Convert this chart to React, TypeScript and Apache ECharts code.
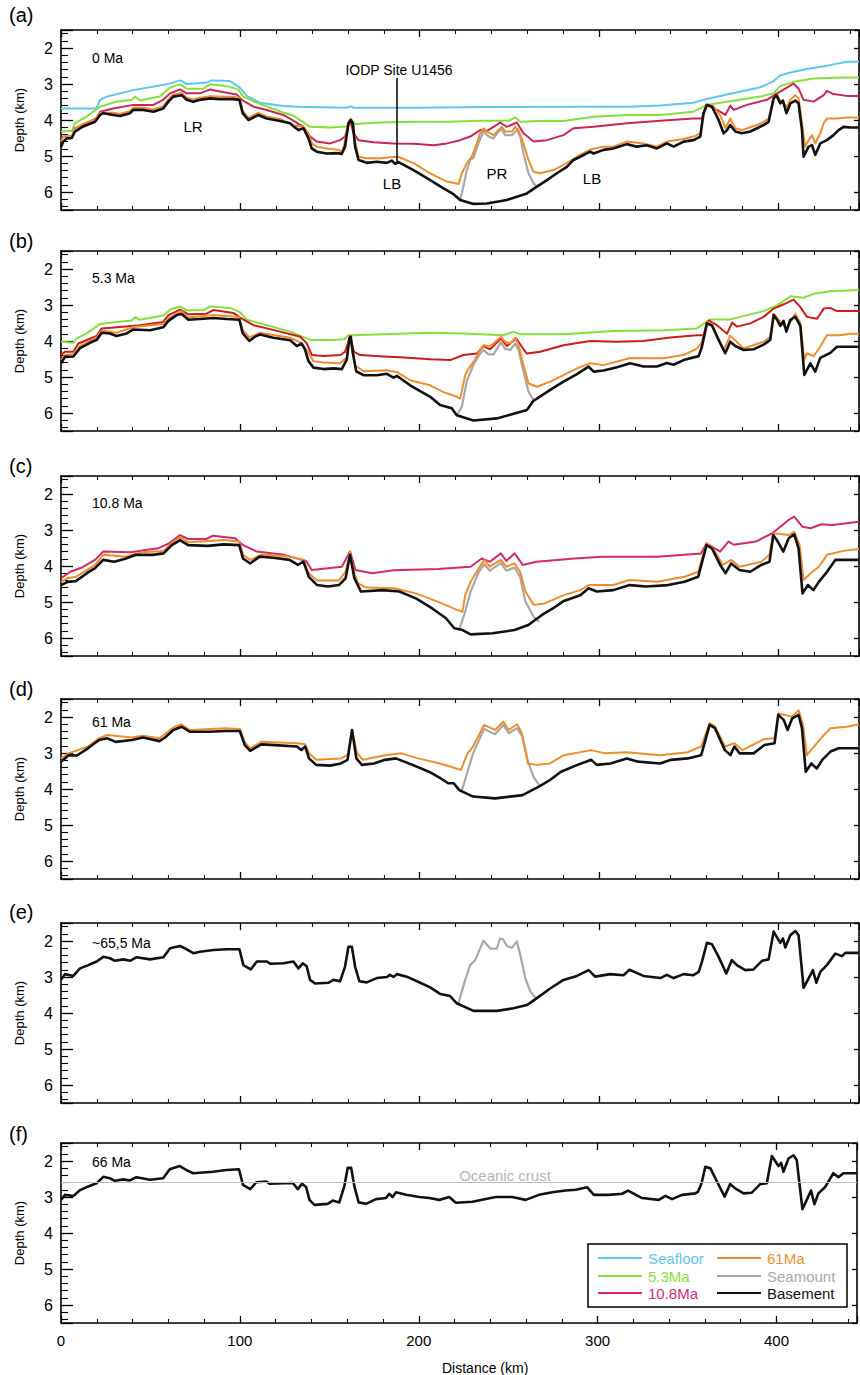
import React, { useEffect, useRef } from "react";
import * as echarts from "echarts";

const FONT = "Liberation Sans, Arial, Helvetica, sans-serif";
const X_MAX = 445;

// ---------------- data: [distance km, depth km] ----------------
const aSeafloor = [[0,3.68],[19.7,3.68],[21.8,3.44],[25.5,3.35],[40.3,3.17],[58.9,3.01],[66.4,2.9],[70.1,3.0],[81.2,2.96],[84,2.9],[94.2,2.92],[99.8,3.1],[103.6,3.33],[111,3.52],[124,3.61],[132.4,3.63],[159.3,3.66],[161.5,3.62],[163.5,3.66],[196.6,3.66],[240,3.64],[289.5,3.63],[315.6,3.63],[334,3.6],[352.7,3.52],[358.3,3.44],[371.4,3.29],[390,3.09],[397.4,2.92],[401.1,2.76],[408.5,2.66],[417.8,2.57],[427.1,2.49],[438.2,2.38],[445,2.38]];
const a53 = [[0,4.32],[6,4.3],[7.8,4.09],[14.2,3.91],[21.8,3.63],[31,3.49],[39.4,3.44],[41.2,3.35],[44,3.46],[55.2,3.35],[60.8,3.1],[66.4,3.01],[70.1,3.13],[79.4,3.13],[83.1,3.01],[92.4,3.06],[98.9,3.15],[101.7,3.35],[111,3.56],[124,3.79],[129.6,3.88],[138.9,4.19],[150,4.21],[159.3,4.18],[161.6,3.98],[164,4.11],[177.9,4.07],[196.6,4.05],[215.2,4.05],[233.7,4.02],[250,4.02],[253.3,3.93],[256.1,4.05],[271,4.02],[280,4.03],[297,3.91],[315.6,3.86],[334.2,3.86],[352.7,3.77],[360.2,3.58],[371.4,3.49],[390,3.35],[397.4,3.26],[401.1,3.06],[408.5,2.94],[419.7,2.85],[436.4,2.82],[445,2.82]];
const a108 = [[0,4.5],[1.3,4.46],[6,4.46],[7.8,4.23],[14.2,4.09],[19.7,3.95],[21.8,3.77],[29.2,3.68],[40.3,3.58],[51.5,3.58],[57,3.44],[60.8,3.26],[66.4,3.15],[70.1,3.26],[77.5,3.26],[83.1,3.15],[88.7,3.21],[98,3.29],[100.8,3.44],[107.3,3.63],[114.7,3.72],[124,3.86],[129.6,4.02],[135.2,4.19],[138.9,4.46],[142.6,4.6],[150,4.65],[155.6,4.56],[158.4,4.46],[161.2,4.0],[163.1,4.37],[165.9,4.56],[174.2,4.62],[185.4,4.65],[196.6,4.66],[207.7,4.7],[215.2,4.65],[222.6,4.56],[228.2,4.46],[233.7,4.28],[237.5,4.3],[241.2,4.19],[244.9,4.07],[248.7,4.19],[254.2,4.07],[257.9,4.37],[263.5,4.6],[271,4.56],[280.2,4.42],[285.8,4.23],[297,4.19],[315.6,4.09],[334.2,4.02],[352.7,3.96],[357.4,3.96],[360.2,3.58],[365.8,3.72],[370.5,3.86],[373.2,3.6],[375.1,3.72],[382.5,3.58],[393.6,3.44],[399.3,3.26],[404.8,3.1],[408.5,2.99],[411.3,3.13],[414.1,3.44],[419.7,3.49],[425.3,3.31],[427.1,3.19],[430.8,3.28],[438.2,3.33],[445,3.33]];
const aSeamount = [[222.6,6.22],[224.4,5.85],[226.3,5.39],[228.2,5.11],[230,5.05],[232.8,4.65],[235.6,4.32],[238.4,4.46],[241.2,4.51],[244,4.32],[245.8,4.25],[247.7,4.42],[251.4,4.42],[254.2,4.28],[256.1,4.46],[257.9,4.93],[260.7,5.48],[263.5,5.76],[265.4,5.85]];
const a61 = [[0,4.6],[1.5,4.45],[6,4.45],[7.8,4.25],[12.4,4.11],[19,3.98],[21.8,3.8],[29.2,3.8],[32.9,3.83],[38.5,3.75],[40.3,3.66],[45.9,3.66],[51.5,3.71],[57,3.62],[59.9,3.43],[62.6,3.29],[67.3,3.25],[70.1,3.38],[73.8,3.43],[77.5,3.38],[83.1,3.34],[96.1,3.36],[99.5,3.38],[101.3,3.75],[104.5,3.94],[107.3,3.87],[110,3.8],[114.7,3.9],[122.2,3.97],[129.6,4.15],[135.2,4.18],[138,4.37],[139.8,4.65],[142.6,4.74],[148.2,4.79],[155,4.83],[156.6,4.9],[158,4.65],[160.3,4.09],[161.6,3.96],[163,4.1],[164,4.6],[165.9,5.02],[170.5,5.06],[177.9,5.06],[185.4,5.03],[188,5.02],[196.6,5.2],[205.9,5.48],[215.2,5.71],[221.7,5.78],[223.5,5.48],[226.3,5.2],[229.1,5.02],[231.9,4.65],[233.7,4.37],[235.6,4.23],[237.5,4.32],[241.2,4.42],[244,4.28],[245.8,4.19],[247.7,4.32],[251.4,4.32],[253.3,4.19],[255.1,4.28],[257.9,4.65],[260.7,5.11],[263.5,5.44],[267.2,5.48],[274.6,5.39],[282.1,5.2],[289.5,4.97],[295.1,4.82],[302.5,4.74],[308,4.74],[315.6,4.6],[324.8,4.65],[332.3,4.74],[337.9,4.6],[347.2,4.53],[352.7,4.46],[356.5,4.37],[358.7,3.72],[360.2,3.56],[364,3.63],[368,3.91],[370.5,4.23],[373.2,3.96],[376,4.23],[379.7,4.28],[388.1,4.14],[391.8,4.05],[394.6,3.96],[397.4,3.35],[399.3,3.29],[401.1,3.46],[404.8,3.63],[406.7,3.44],[409.5,3.31],[411.3,3.4],[413.2,4.09],[415,4.74],[416.9,4.56],[418.8,4.42],[420.6,4.65],[423.4,4.37],[425.3,4.09],[427.1,3.96],[432.7,3.96],[438.2,3.93],[445,3.93]];
const aBasement = [[0,4.75],[1.3,4.6],[3.2,4.51],[6,4.5],[7.8,4.32],[12.4,4.18],[19,4.05],[21.8,3.86],[23.6,3.81],[29.2,3.86],[32.9,3.89],[38.5,3.81],[40.3,3.72],[45.9,3.72],[51.5,3.77],[57,3.68],[59.9,3.49],[62.6,3.35],[67.3,3.31],[70.1,3.44],[73.8,3.49],[77.5,3.44],[83.1,3.4],[88.7,3.42],[96.1,3.42],[99.5,3.44],[101.3,3.81],[104.5,4.0],[107.3,3.93],[110,3.86],[114.7,3.96],[122.2,4.03],[127.8,4.09],[130,4.19],[132.4,4.28],[135.2,4.23],[138,4.51],[139.8,4.79],[142.6,4.88],[148.2,4.93],[153.8,4.92],[156.6,4.94],[158.4,4.74],[160.3,4.09],[161.6,4.0],[162.7,4.09],[164,4.74],[165.9,5.11],[170.5,5.19],[176.1,5.16],[181.7,5.19],[184.5,5.13],[186.3,5.22],[188.2,5.17],[196.6,5.39],[205.9,5.67],[213.3,5.9],[218.9,6.06],[222.6,6.22],[230,6.33],[237.5,6.32],[248.7,6.22],[259.8,6.04],[265.4,5.85],[271,5.67],[276.5,5.48],[282.1,5.3],[285.8,5.11],[289.5,5.02],[295.1,4.88],[297,4.93],[302.5,4.83],[308,4.79],[315.6,4.67],[321.2,4.74],[326.7,4.7],[332.3,4.79],[337.9,4.65],[341.6,4.74],[347.2,4.6],[352.7,4.56],[356.5,4.46],[358.3,3.81],[360.2,3.58],[363,3.63],[366.7,4.0],[369.5,4.37],[371.4,4.28],[373.2,4.14],[376,4.32],[379.7,4.37],[384.4,4.32],[388.1,4.23],[391.8,4.14],[394.6,4.05],[397.4,3.4],[398.9,3.31],[401.1,3.54],[402.6,3.46],[404.5,3.81],[406.7,3.54],[409.5,3.46],[411.3,3.54],[413.2,4.28],[414.1,5.02],[416.9,4.74],[418.8,4.7],[420.6,4.97],[423.4,4.65],[427.1,4.56],[430.8,4.42],[433.6,4.28],[436.4,4.19],[440.2,4.21],[445,4.21]];

const b53 = [[0,4.02],[6.9,4.05],[8.7,3.93],[14.3,3.79],[21.8,3.53],[31,3.47],[39.4,3.43],[41.2,3.34],[44,3.41],[57,3.29],[60.8,3.13],[66.4,3.04],[70.1,3.15],[79.4,3.14],[83.1,3.04],[94.2,3.08],[99.8,3.2],[103.6,3.41],[114.7,3.56],[127.8,3.74],[139,3.97],[152,3.97],[158,3.95],[160.3,3.83],[162,3.85],[166.9,3.83],[205.9,3.77],[224.4,3.79],[246.7,3.84],[252.3,3.74],[256.1,3.81],[280.2,3.81],[308.1,3.72],[336,3.7],[354.6,3.65],[362,3.4],[373.2,3.4],[391.8,3.17],[399.3,3.01],[406.7,2.76],[414.1,2.8],[419.7,2.69],[429,2.62],[445,2.58]];
const b108 = [[0,4.39],[2.2,4.3],[6.9,4.3],[9.7,4.07],[19.9,3.86],[22.7,3.65],[32.9,3.61],[44,3.56],[57,3.47],[59.9,3.28],[66.4,3.13],[71,3.26],[81.2,3.24],[85,3.14],[96.1,3.22],[99.8,3.35],[107.3,3.56],[122.2,3.74],[133.4,3.88],[137,4.06],[139.9,4.39],[146.4,4.42],[155.7,4.39],[158.4,4.3],[161.2,3.89],[163.4,4.3],[166.9,4.39],[179.9,4.43],[189.2,4.45],[205.9,4.51],[217,4.53],[224.4,4.39],[231.9,4.35],[235.6,4.14],[239.3,4.23],[245.3,3.93],[248.7,4.14],[253.9,3.93],[257,4.16],[259.8,4.35],[267.2,4.3],[280.2,4.12],[295.1,4.0],[310,4.02],[324.8,4.0],[339.7,3.9],[354.6,3.84],[358.3,3.84],[361.1,3.43],[365.8,3.56],[371.4,3.8],[374.2,3.49],[377,3.6],[384.4,3.51],[391.8,3.33],[397.4,3.1],[403,2.98],[408.5,2.85],[412.3,3.06],[416,3.33],[421.6,3.38],[425.3,3.1],[429,3.08],[432.7,3.17],[445,3.17]];
const bSeamount = [[220.7,6.06],[223.5,5.83],[226.3,5.11],[230,4.66],[233.7,4.35],[235.6,4.25],[238.4,4.37],[241.2,4.37],[245.3,4.04],[247.7,4.22],[250.5,4.25],[253.3,4.07],[255.1,4.25],[257.9,4.85],[260.7,5.41],[263.5,5.64]];
const b61 = [[0,4.53],[2.2,4.39],[6.9,4.37],[10.6,4.14],[19.9,3.9],[22.7,3.71],[31,3.77],[40.3,3.61],[57,3.53],[59.9,3.37],[67.3,3.17],[71,3.35],[85,3.28],[99,3.33],[101.3,3.69],[105,3.9],[111,3.77],[127.8,3.91],[133.4,4.04],[138,4.32],[140.8,4.56],[146.4,4.6],[155.7,4.62],[159.4,4.45],[161,3.86],[164,4.68],[168.7,4.84],[181.7,4.81],[187.3,4.86],[194.7,5.09],[205.9,5.23],[213.3,5.42],[220.7,5.55],[222.6,5.6],[225.4,4.95],[227.3,4.76],[230,4.58],[233.7,4.25],[235.6,4.11],[238.4,4.16],[241.2,4.07],[245.3,3.89],[247.7,4.02],[250.5,4.07],[253.3,3.91],[255.1,4.11],[257.9,4.67],[260.7,5.18],[265.4,5.27],[272.8,5.13],[280.2,4.95],[287.7,4.76],[295.1,4.62],[302.5,4.67],[317.4,4.47],[336,4.48],[347.2,4.39],[354.6,4.21],[357.4,4.03],[360.2,3.46],[363,3.53],[369.5,4.25],[373.2,3.85],[380.7,4.21],[391.8,4.02],[395.5,3.88],[397.4,3.24],[401.1,3.46],[404.5,3.65],[409.5,3.24],[412.3,3.5],[414.5,4.52],[416,4.34],[419.7,4.42],[423.4,4.16],[427.1,3.84],[434.5,3.84],[440,3.8],[445,3.8]];
const bBasement = [[0,4.62],[2.2,4.44],[6.9,4.43],[10.6,4.2],[16.2,4.05],[19.9,3.97],[22.7,3.77],[27.3,3.79],[31,3.86],[36.6,3.79],[40.3,3.68],[49.7,3.7],[57,3.62],[59.9,3.44],[64.5,3.28],[67.3,3.25],[71,3.41],[77.5,3.39],[85,3.36],[92.4,3.39],[99.5,3.41],[101.3,3.78],[105,4.0],[108.2,3.88],[111,3.82],[118.4,3.91],[127.8,3.98],[131.5,4.14],[134.3,4.07],[136.1,4.24],[138,4.56],[140.8,4.74],[146.4,4.78],[152,4.76],[156.6,4.78],[159.4,4.51],[160.8,3.92],[161.6,3.88],[162.7,4.32],[164.6,4.84],[168.7,4.95],[176.1,4.95],[181.7,4.91],[185.4,5.02],[187.3,4.97],[194.7,5.23],[205.9,5.55],[211.4,5.78],[217.9,5.87],[220.7,6.06],[230,6.21],[243,6.15],[259.8,5.92],[263.5,5.66],[265.4,5.6],[272.8,5.36],[280.2,5.13],[287.7,4.92],[294.2,4.71],[297,4.85],[302.5,4.82],[310,4.73],[317.4,4.62],[324.8,4.71],[332.3,4.71],[337.9,4.61],[341.6,4.66],[347.2,4.53],[355.6,4.42],[357.4,4.16],[360.2,3.51],[363,3.57],[366.7,3.97],[370.4,4.34],[373.2,4.02],[376,4.14],[380.7,4.25],[386.3,4.23],[391.8,4.1],[395.5,3.97],[397.4,3.28],[399.3,3.41],[401.1,3.58],[402.9,3.44],[404.5,3.74],[406.7,3.41],[409.5,3.33],[412.3,3.58],[414.5,4.94],[417.9,4.62],[420.6,4.85],[423.4,4.47],[429,4.33],[432.7,4.16],[445,4.16]];

const c108 = [[0,4.34],[5.2,4.16],[11.3,4.05],[19,3.83],[23.5,3.6],[38.8,3.62],[54.1,3.51],[60.2,3.37],[66.4,3.14],[70.9,3.25],[81,3.25],[84.7,3.16],[97,3.23],[101.5,3.42],[109.2,3.6],[124.5,3.69],[136.7,3.86],[139.8,4.11],[148.9,4.06],[156.6,4.02],[161.2,3.6],[164.2,4.11],[173.4,4.2],[185.6,4.12],[210.1,4.08],[228.4,4.02],[234.6,3.79],[239.1,3.88],[245.3,3.65],[248.3,3.86],[252.9,3.65],[257.5,3.97],[265.1,3.88],[286.5,3.79],[301.8,3.74],[332.4,3.74],[356.9,3.65],[360,3.37],[367.6,3.6],[372.2,3.32],[375.2,3.41],[387.5,3.32],[396.6,3.09],[405.8,2.72],[408.9,2.63],[413.5,2.91],[418,2.95],[424.2,2.84],[430.3,2.86],[445,2.77]];
const cSeamount = [[222.3,5.73],[225.4,5.27],[228.4,4.71],[233,4.16],[236.1,3.95],[239.1,4.13],[245.3,3.92],[248.3,4.13],[252.9,4.04],[256,4.3],[259,4.99],[263.6,5.41],[266.7,5.55]];
const c61 = [[0,4.44],[3.7,4.34],[8.3,4.3],[19,3.97],[23.5,3.69],[35.8,3.74],[45,3.62],[57.2,3.58],[61.8,3.36],[66.4,3.19],[70.9,3.34],[90.8,3.28],[99.4,3.32],[101.5,3.69],[105.5,3.83],[112.2,3.68],[127.5,3.74],[135.2,3.83],[138.2,4.21],[142.8,4.4],[155,4.4],[158.7,4.16],[161.2,3.6],[163.5,4.2],[165.7,4.48],[170.3,4.6],[185.6,4.62],[197.9,4.76],[210.1,4.99],[220.8,5.22],[223.9,5.27],[225.4,4.81],[228.4,4.44],[233,4.06],[236.1,3.83],[239.1,4.02],[245.3,3.83],[248.3,4.02],[252.9,3.93],[256,4.16],[259,4.71],[263.6,5.08],[269.7,5.04],[280.4,4.81],[289.6,4.67],[294.2,4.53],[308,4.53],[317.1,4.39],[332.4,4.44],[347.7,4.3],[355.3,4.16],[360,3.37],[363,3.46],[369.1,3.97],[373.7,3.83],[378.3,4.02],[390.5,3.88],[395.1,3.69],[397.2,3.09],[405.8,3.14],[408.9,3.05],[411.9,3.42],[414.1,4.39],[418,4.2],[422.6,4.02],[427.2,3.69],[436.4,3.58],[445,3.53]];
const cBasement = [[0,4.53],[3.7,4.44],[8.3,4.42],[14.4,4.2],[19,4.06],[23.5,3.83],[29.7,3.88],[35.8,3.8],[41.9,3.69],[51,3.69],[57.2,3.65],[61.8,3.42],[66.4,3.28],[70.9,3.42],[81.7,3.44],[90.8,3.4],[99.4,3.42],[101.5,3.79],[105.5,3.93],[110.7,3.74],[118.3,3.77],[127.5,3.83],[132.1,3.97],[135.2,3.88],[138.2,4.3],[142.8,4.53],[148.9,4.57],[155,4.53],[158.7,4.34],[161.2,3.69],[163.6,4.34],[167.3,4.71],[179.5,4.67],[188.7,4.71],[197.9,4.9],[207,5.18],[214.7,5.45],[219.3,5.73],[223.9,5.78],[228.4,5.9],[240.7,5.87],[252.9,5.78],[260.6,5.64],[268.2,5.36],[274.3,5.18],[280.4,4.97],[289.6,4.81],[294.2,4.62],[298.8,4.71],[308,4.67],[317.1,4.53],[326.3,4.57],[338.5,4.53],[347.7,4.44],[355.3,4.3],[360,3.42],[363,3.51],[367.6,3.97],[370.6,4.2],[373.7,3.93],[378.3,4.11],[384.4,4.16],[390.5,3.97],[395.1,3.88],[397.2,3.14],[399.7,3.32],[402.8,3.6],[405.8,3.23],[408.9,3.12],[411.3,3.51],[413.5,4.76],[416.5,4.53],[419.6,4.67],[422.6,4.44],[427.2,4.16],[431.8,3.83],[445,3.83]];

const dSeamount = [[223.6,4.03],[226.7,3.52],[229.8,3.01],[235.9,2.33],[242,2.48],[246.6,2.22],[249.7,2.45],[254.3,2.31],[257.4,2.55],[260.4,3.24],[263.5,3.66],[267,3.92]];
const d61 = [[0,3.15],[4.3,3.01],[15,2.82],[21.2,2.59],[25.8,2.5],[39.6,2.57],[45.7,2.52],[54.9,2.59],[62.6,2.29],[67.2,2.2],[71.8,2.36],[91.7,2.31],[99.7,2.33],[102.5,2.7],[105.5,2.87],[111.7,2.69],[131.6,2.73],[136.2,2.76],[138.3,3.01],[142.3,3.19],[156.1,3.15],[159.8,3.06],[162.3,2.36],[165,3.0],[168.4,3.19],[180.7,3.06],[189.9,3.01],[199.1,3.15],[211.3,3.29],[220.5,3.43],[223,3.47],[226.7,3.01],[229.8,2.82],[235.9,2.22],[242,2.36],[246.6,2.13],[249.7,2.36],[254.3,2.2],[256.7,2.41],[260.4,3.29],[265,3.33],[272.7,3.29],[280.4,3.06],[295.7,2.92],[303.4,3.01],[315.6,2.98],[334,3.06],[349.4,2.98],[357,2.82],[361.7,2.17],[364.7,2.26],[370.2,2.82],[375.5,2.73],[380,2.92],[392.3,2.61],[397.9,2.59],[400,1.9],[407.7,1.99],[411.3,1.81],[413.8,2.22],[415.9,3.06],[419.9,2.82],[424.5,2.55],[429.1,2.31],[438.3,2.27],[445,2.2]];
const dBasement = [[0,3.24],[4.3,3.06],[8.9,3.07],[15,2.87],[21.2,2.64],[25.8,2.59],[30.4,2.69],[39.6,2.64],[45.7,2.57],[54.9,2.67],[58,2.57],[62.6,2.36],[67.2,2.27],[71.8,2.41],[82.5,2.41],[91.7,2.39],[99.7,2.39],[102.5,2.78],[105.5,2.94],[111.7,2.76],[119.3,2.78],[131.6,2.82],[134,2.92],[136.2,2.82],[138.3,3.15],[142.3,3.33],[150,3.35],[156.1,3.29],[159.8,3.19],[162.3,2.36],[164.7,3.15],[167.8,3.33],[174.5,3.29],[180.7,3.19],[186.8,3.15],[196,3.33],[205.2,3.52],[211.3,3.69],[215.9,3.84],[219,3.84],[222.1,4.03],[229.8,4.21],[242,4.26],[257.4,4.17],[267,3.92],[272.7,3.75],[278.8,3.52],[288,3.33],[295.7,3.19],[298.8,3.33],[306.4,3.29],[315.6,3.15],[321.8,3.24],[334,3.29],[340.2,3.19],[349.4,3.15],[357,3.06],[361.7,2.22],[364.7,2.31],[370.2,2.92],[373.3,3.06],[375.5,2.82],[378.5,3.01],[386.2,3.01],[392.3,2.78],[397.9,2.73],[400,1.94],[403,2.08],[405.2,2.36],[407.7,2.04],[411.3,1.94],[413.2,2.31],[415.3,3.52],[418.4,3.29],[421.5,3.43],[424.5,3.19],[429.1,2.96],[433.7,2.87],[445,2.87]];

const eSeamount = [[221.6,3.73],[225.4,3.08],[228.2,2.67],[231,2.53],[235.6,1.99],[239.3,2.21],[243,2.21],[244.9,1.93],[246.5,1.95],[248.7,2.14],[251.4,2.19],[254.2,2.01],[256.1,2.38],[258.9,3.03],[261.7,3.4],[265,3.6]];
const eBasement = [[0,3.08],[2.2,2.92],[6.9,2.97],[10.6,2.76],[15.2,2.67],[19.9,2.57],[23.6,2.44],[27.3,2.48],[30.1,2.55],[34.8,2.51],[38.5,2.55],[42.2,2.45],[49.7,2.51],[57.1,2.45],[60.8,2.2],[66.4,2.14],[70.1,2.23],[73.8,2.34],[77.5,2.3],[85,2.25],[92.4,2.23],[99.5,2.23],[101.7,2.67],[105.8,2.79],[109.2,2.57],[114.8,2.57],[116.6,2.63],[124,2.62],[129.6,2.57],[132.4,2.76],[134.8,2.62],[137,2.7],[138.9,3.08],[141.7,3.18],[149.1,3.16],[151.9,3.08],[155.6,3.12],[158.4,2.71],[160.3,2.16],[162.2,2.16],[164,2.71],[166.4,3.12],[170.5,3.15],[176.1,3.03],[181.7,3.0],[183.5,2.94],[185.4,3.0],[187.3,2.92],[192.8,2.99],[200.3,3.16],[205.9,3.29],[211.4,3.47],[217,3.53],[220.7,3.73],[230,3.94],[243,3.94],[252.3,3.87],[259.8,3.78],[265,3.6],[272.8,3.32],[280.2,3.08],[287.7,2.97],[294.2,2.81],[297.9,2.99],[306.3,2.92],[313.7,2.95],[317,2.8],[324.8,2.97],[334.2,3.03],[337.9,2.94],[341.6,3.03],[347.2,2.92],[352.7,2.95],[355.6,2.86],[357.4,2.58],[360.2,2.05],[363,2.09],[366.7,2.44],[371,2.9],[374.1,2.53],[376.9,2.67],[381.6,2.81],[386.2,2.79],[390.9,2.55],[394.6,2.51],[397.4,1.74],[401.1,2.05],[402.6,1.93],[403.9,2.18],[406.7,1.84],[409.5,1.72],[411.3,1.84],[414.1,3.3],[416.9,3.04],[419.3,2.81],[421.2,3.16],[423.4,2.86],[427.1,2.67],[431.8,2.35],[435.5,2.42],[437.4,2.33],[445,2.33]];

const fBasement = [[0,3.08],[2.2,2.94],[6.9,2.97],[10.6,2.81],[15.2,2.71],[19.9,2.62],[23.6,2.44],[27.3,2.48],[30.1,2.55],[34.8,2.51],[38.5,2.54],[42.2,2.45],[49.7,2.52],[57.1,2.48],[60.8,2.23],[66.4,2.14],[70.1,2.25],[73.8,2.34],[85,2.3],[92.4,2.25],[99.5,2.23],[101.7,2.66],[105.8,2.78],[109.2,2.59],[114.8,2.57],[116.6,2.63],[129.6,2.61],[132.4,2.78],[134.8,2.63],[137,2.72],[138.9,3.08],[141.7,3.22],[149.1,3.19],[151.9,3.1],[155.6,3.15],[158.4,2.7],[160.3,2.19],[162.2,2.19],[164,2.7],[166.4,3.15],[170.5,3.19],[176.1,3.06],[181.7,3.03],[183.5,2.91],[185.4,3.0],[187.3,2.87],[192.8,2.94],[200.3,3.0],[205.9,3.03],[211.4,3.08],[217,3.0],[220.7,3.16],[230,3.13],[243,3.0],[252.3,3.0],[259.8,3.08],[267.2,2.94],[274.6,2.87],[282.1,2.82],[287.7,2.8],[294.2,2.73],[297.9,2.94],[306.3,2.94],[313.7,2.91],[317,2.82],[324.8,3.03],[334.2,3.08],[337.9,2.97],[341.6,3.06],[347.2,2.94],[354.6,2.9],[356.2,2.85],[358.1,2.62],[360.2,2.16],[363,2.2],[366.7,2.57],[371,2.99],[374.1,2.64],[376.9,2.76],[381.6,2.9],[386.2,2.88],[390.9,2.64],[394.6,2.62],[397.4,1.86],[401.1,2.14],[402.6,2.05],[403.9,2.3],[406.7,1.93],[409.5,1.84],[411.3,1.97],[414.5,3.34],[416.9,3.08],[419.3,2.82],[421.2,3.2],[423.4,2.9],[427.1,2.73],[431.8,2.34],[434.6,2.45],[437.4,2.34],[445,2.34]];

const oceanicCrustDepth = 2.58;
const iodpSite = { x: 187.5, top: 2.83, bottom: 5.17 };

const panelLetters = ["(a)", "(b)", "(c)", "(d)", "(e)", "(f)"];
const panelAges = ["0 Ma", "5.3 Ma", "10.8 Ma", "61 Ma", "~65,5 Ma", "66 Ma"];
const xTickLabels = [0, 100, 200, 300, 400];
const yTickLabels = [2, 3, 4, 5, 6];

const legendItems = [
  { name: "Seafloor", color: "#5ec6f2" },
  { name: "5.3Ma", color: "#86e03a" },
  { name: "10.8Ma", color: "#d9267e" },
  { name: "61Ma", color: "#f28c2b" },
  { name: "Seamount", color: "#a8a8a8" },
  { name: "Basement", color: "#111111" },
];

// ---------------- layout ----------------
const PANEL_TOPS = [30, 251, 476, 699, 923, 1143];
const PANEL_H = 180;
const GRID_LEFT = 61;
const GRID_W = 798;
const LETTER_Y = [15, 241, 466, 689, 912, 1134];
const AGE_Y = [58, 278, 503, 722, 943, 1162];

const C = {
  seafloor: "#5ec6f2",
  g53: "#86e03a",
  r108a: "#cf2358",
  r108b: "#d01a1a",
  r108c: "#d42a62",
  o61: "#f28c2b",
  seamount: "#a8a8a8",
  base: "#111111",
};

function lineSeries(name: string, data: number[][], gi: number, color: string, width: number, extra: any = {}) {
  return {
    type: "line",
    name,
    data,
    xAxisIndex: gi * 2,
    yAxisIndex: gi * 2,
    showSymbol: false,
    symbol: "none",
    silent: true,
    clip: true,
    lineStyle: { color, width, join: "round" },
    ...extra,
  };
}

function buildOption() {
  const grid: any[] = [];
  const xAxis: any[] = [];
  const yAxis: any[] = [];
  const axisLine = { show: true, onZero: false, lineStyle: { color: "#000", width: 1.6 } };

  PANEL_TOPS.forEach((top, gi) => {
    grid.push({ left: GRID_LEFT, width: GRID_W, top, height: PANEL_H, containLabel: false });
    const isLast = gi === PANEL_TOPS.length - 1;
    xAxis.push({
      gridIndex: gi,
      type: "value",
      min: 0,
      max: X_MAX,
      interval: 100,
      position: "bottom",
      axisLine,
      axisTick: { show: true, inside: true, length: 7, lineStyle: { color: "#000", width: 1.3 } },
      minorTick: { show: true, splitNumber: 5, length: 4, lineStyle: { color: "#000", width: 1.1 } },
      axisLabel: {
        show: isLast,
        color: "#000",
        fontSize: 15,
        fontFamily: FONT,
        margin: 10,
        formatter: (v: number) => (xTickLabels.includes(v) ? String(v) : ""),
      },
      splitLine: { show: false },
      minorSplitLine: { show: false },
    });
    xAxis.push({
      gridIndex: gi,
      type: "value",
      min: 0,
      max: X_MAX,
      interval: 100,
      position: "top",
      axisLine,
      axisTick: { show: true, inside: true, length: 7, lineStyle: { color: "#000", width: 1.3 } },
      minorTick: { show: true, splitNumber: 5, length: 4, lineStyle: { color: "#000", width: 1.1 } },
      axisLabel: { show: false },
      splitLine: { show: false },
    });
    yAxis.push({
      gridIndex: gi,
      type: "value",
      inverse: true,
      min: 1.5,
      max: 6.5,
      splitNumber: 5,
      position: "left",
      axisLine,
      axisTick: { show: true, inside: true, length: 12, lineStyle: { color: "#000", width: 1.3 } },
      minorTick: { show: true, splitNumber: 5, length: 7, lineStyle: { color: "#000", width: 1.1 } },
      axisLabel: {
        color: "#000",
        fontSize: 16,
        fontFamily: FONT,
        margin: 8,
        formatter: (v: number) => {
          const r = Math.round(v);
          return Math.abs(v - r) < 1e-6 && yTickLabels.includes(r) ? String(r) : "";
        },
      },
      splitLine: { show: false },
      name: "Depth (km)",
      nameLocation: "middle",
      nameGap: 35,
      nameTextStyle: { color: "#000", fontSize: 13, fontFamily: FONT },
    });
    yAxis.push({
      gridIndex: gi,
      type: "value",
      inverse: true,
      min: 1.5,
      max: 6.5,
      splitNumber: 5,
      position: "right",
      axisLine,
      axisTick: { show: true, inside: true, length: 5, lineStyle: { color: "#000", width: 1.3 } },
      minorTick: { show: false },
      axisLabel: { show: false },
      splitLine: { show: false },
    });
  });

  const series: any[] = [
    // (a)
    lineSeries("Seafloor", aSeafloor, 0, C.seafloor, 2),
    lineSeries("5.3Ma", a53, 0, C.g53, 2),
    lineSeries("10.8Ma", a108, 0, C.r108a, 2),
    lineSeries("Seamount", aSeamount, 0, C.seamount, 2.2),
    lineSeries("61Ma", a61, 0, C.o61, 2),
    lineSeries("Basement", aBasement, 0, C.base, 2.6, {
      markLine: {
        silent: true,
        symbol: ["none", "none"],
        label: { show: false },
        lineStyle: { color: "#000", width: 1.5, type: "solid" },
        data: [[{ coord: [iodpSite.x, iodpSite.top] }, { coord: [iodpSite.x, iodpSite.bottom] }]],
      },
    }),
    // (b)
    lineSeries("5.3Ma", b53, 1, C.g53, 2),
    lineSeries("10.8Ma", b108, 1, C.r108b, 2),
    lineSeries("Seamount", bSeamount, 1, C.seamount, 2.2),
    lineSeries("61Ma", b61, 1, C.o61, 2),
    lineSeries("Basement", bBasement, 1, C.base, 2.6),
    // (c)
    lineSeries("10.8Ma", c108, 2, C.r108c, 2),
    lineSeries("Seamount", cSeamount, 2, C.seamount, 2.2),
    lineSeries("61Ma", c61, 2, C.o61, 2),
    lineSeries("Basement", cBasement, 2, C.base, 2.6),
    // (d)
    lineSeries("Seamount", dSeamount, 3, C.seamount, 2.2),
    lineSeries("61Ma", d61, 3, C.o61, 2),
    lineSeries("Basement", dBasement, 3, C.base, 2.6),
    // (e)
    lineSeries("Seamount", eSeamount, 4, C.seamount, 2.2),
    lineSeries("Basement", eBasement, 4, C.base, 2.6),
    // (f)
    lineSeries("Basement", fBasement, 5, C.base, 2.6, {
      markLine: {
        silent: true,
        symbol: ["none", "none"],
        label: { show: false },
        lineStyle: { color: "#bdbdbd", width: 1, type: "solid" },
        data: [{ yAxis: oceanicCrustDepth }],
      },
    }),
  ];

  const txt = (text: string, x: number, y: number, size: number, fill = "#000", align = "left") => ({
    type: "text",
    z: 50,
    silent: true,
    style: { text, x, y, fill, font: `${size}px ${FONT}`, textAlign: align, textVerticalAlign: "middle" },
  });

  const graphic: any[] = [];
  panelLetters.forEach((t, i) => graphic.push(txt(t, 9, LETTER_Y[i], 20)));
  panelAges.forEach((t, i) => graphic.push(txt(t, 92, AGE_Y[i], 14)));
  graphic.push(txt("LR", 193, 126, 15, "#000", "center"));
  graphic.push(txt("LB", 392, 183, 15, "#000", "center"));
  graphic.push(txt("PR", 497, 173, 15, "#000", "center"));
  graphic.push(txt("LB", 592, 178, 15, "#000", "center"));
  graphic.push(txt("IODP Site U1456", 399, 70, 14, "#000", "center"));
  graphic.push(txt("Oceanic crust", 505, 1175, 15, "#b5b5b5", "center"));
  graphic.push(txt("Distance (km)", 442, 1368, 14, "#000", "left"));

  // legend box
  const LX = 588, LY = 1244, LW = 259, LH = 63;
  graphic.push({
    type: "rect",
    z: 60,
    silent: true,
    shape: { x: LX, y: LY, width: LW, height: LH },
    style: { fill: "#fff", stroke: "#000", lineWidth: 1.5 },
  });
  const rowsY = [1258, 1276, 1293];
  legendItems.forEach((item, i) => {
    const col = Math.floor(i / 3);
    const row = i % 3;
    const lx = col === 0 ? 598 : 717;
    graphic.push({
      type: "line",
      z: 61,
      silent: true,
      shape: { x1: lx, y1: rowsY[row], x2: lx + 44, y2: rowsY[row] },
      style: { stroke: item.color, lineWidth: 2 },
    });
    graphic.push({ ...txt(item.name, lx + 50, rowsY[row], 15, item.color), z: 61 });
  });

  return {
    animation: false,
    backgroundColor: "#fff",
    textStyle: { fontFamily: FONT },
    grid,
    xAxis,
    yAxis,
    series,
    graphic,
  };
}

export default function App() {
  const ref = useRef<HTMLDivElement>(null);
  useEffect(() => {
    if (!ref.current) return;
    const chart = echarts.init(ref.current, null, { renderer: "svg" });
    chart.setOption(buildOption() as any);
    return () => chart.dispose();
  }, []);
  return (
    <div
      ref={ref}
      style={{ position: "absolute", left: 0, top: 0, width: 860, height: 1375, background: "#fff" }}
    />
  );
}
